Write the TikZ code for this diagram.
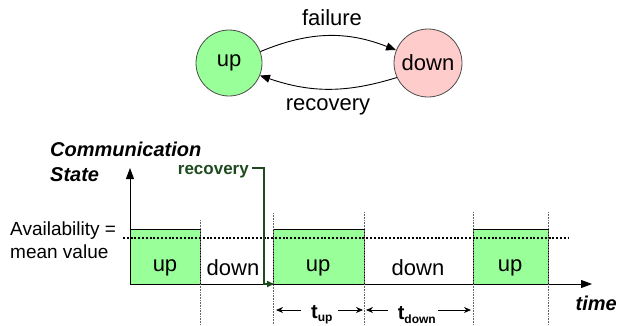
\documentclass[tikz,border=0pt]{standalone}
\usepackage{fontspec}
\setmainfont{Liberation Sans}
\usetikzlibrary{arrows.meta}
\definecolor{upgreen}{HTML}{99FF99}
\definecolor{downpink}{HTML}{FFCCCC}
\definecolor{recgreen}{HTML}{1E4A1E}
\begin{document}
\begin{tikzpicture}[x=1pt,y=-1pt,
  state/.style={circle,draw=black!70,line width=0.8pt,inner sep=0pt,font=\fontsize{22}{24}\selectfont},
  trans/.style={line width=0.9pt,-{Triangle[length=10pt,width=8pt]}},
  lbl/.style={font=\fontsize{22}{24}\selectfont},
  boxup/.style={draw=black,line width=0.7pt,fill=upgreen},
  boxlbl/.style={font=\fontsize{22}{24}\selectfont},
  sidelbl/.style={font=\fontsize{19}{23}\selectfont,align=left,inner sep=0pt},
  axislbl/.style={font=\fontsize{20}{25}\selectfont\bfseries\itshape,align=left,inner sep=0pt},
  vguide/.style={draw=black!60,line width=0.6pt,densely dotted},
  meanline/.style={line width=2.2pt,dash pattern=on 2pt off 1.8pt},
  dimarrow/.style={line width=0.8pt,-{Stealth[length=7pt,width=6pt]}},
  tlbl/.style={font=\fontsize{20}{22}\selectfont\bfseries,inner sep=0pt}
]
\useasboundingbox (0,0) rectangle (618,325);
% state diagram
\node[state,fill=upgreen,minimum size=66pt] (up) at (229,63) {up};
\node[state,fill=downpink,minimum size=68pt] (down) at (428,63) {down};
\draw[trans] (up.20) to[bend left=22] (down.158);
\draw[trans] (down.-155) to[bend left=18] (up.-22);
\node[lbl] (fail) at (332,18) {failure};
\node[lbl] (rec) at (328,107) {recovery};
% time diagram
\coordinate (o) at (130,284);
\coordinate (ytop) at (130,168);
\coordinate (xend) at (592,284);
\draw[boxup] (130,229) rectangle (200,284);
\draw[boxup] (273,229) rectangle (364,284);
\draw[boxup] (473,229) rectangle (548,284);
\draw[line width=0.9pt,-{Triangle[length=11pt,width=8pt]}] (o) -- (ytop);
\draw[line width=0.9pt,-{Triangle[length=11pt,width=8pt]}] (o) -- (xend);
\foreach \x/\y in {200/220,273/213,364/212,473/212,548/212}{
  \draw[vguide] (\x,\y) -- (\x,325);
}
\draw[meanline] (123,238) -- (568,238);
\node[boxlbl] (l1) at (165,268) {up};
\node[boxlbl] (l2) at (233,268) {down};
\node[boxlbl] (l3) at (318,268) {up};
\node[boxlbl] (l4) at (418,268) {down};
\node[boxlbl] (l5) at (510,268) {up};
\node[axislbl,anchor=north west] (cs) at (50,142) {Communication\\State};
\node[axislbl,anchor=east] (time) at (617,303) {time};
\node[sidelbl,anchor=north west] (av) at (10,222) {Availability =\\mean value};
% recovery marker
\node[font=\fontsize{17}{19}\selectfont\bfseries,text=recgreen,inner sep=0pt,anchor=east] (recm) at (249,172) {recovery};
\coordinate (r0) at (252,168);
\coordinate (r1) at (264,168);
\coordinate (r2) at (264,284);
\coordinate (r3) at (274,284);
\draw[recgreen,line width=1.6pt,-{Triangle[length=7pt,width=6pt]}] (r0) -- (r1) -- (r2) -- (r3);
% durations
\node[tlbl] (tup) at (322,315) {t\textsubscript{\fontsize{12}{12}\selectfont up}};
\node[tlbl] (tdown) at (417,315) {t\textsubscript{\fontsize{12}{12}\selectfont down}};
\coordinate (a1s) at (301,310);
\coordinate (a1) at (276,310);
\coordinate (a2s) at (338,310);
\coordinate (a2) at (363,310);
\coordinate (a3s) at (388,310);
\coordinate (a3) at (366,310);
\coordinate (a4s) at (438,310);
\coordinate (a4) at (471,310);
\draw[dimarrow] (a1s) -- (a1);
\draw[dimarrow] (a2s) -- (a2);
\draw[dimarrow] (a3s) -- (a3);
\draw[dimarrow] (a4s) -- (a4);
\end{tikzpicture}
\end{document}
